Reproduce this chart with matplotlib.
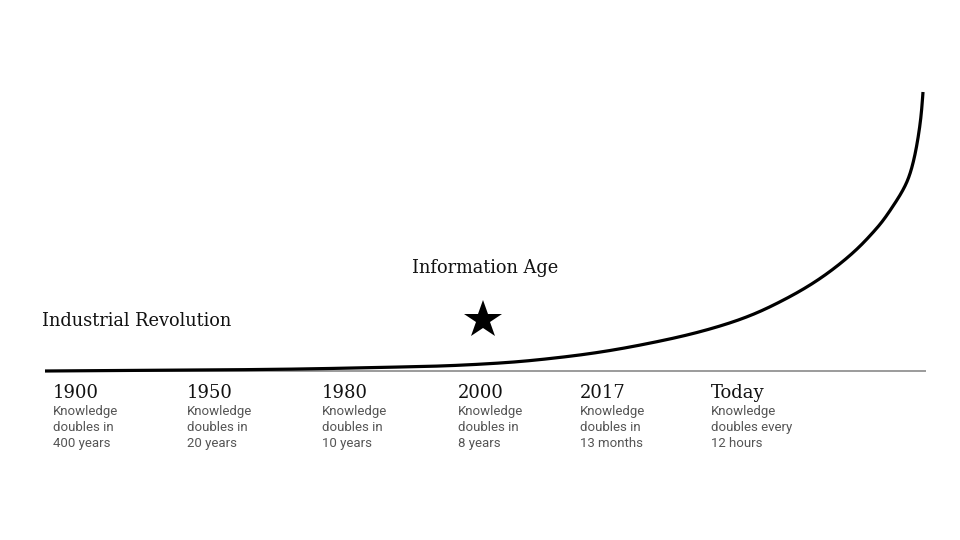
import numpy as np
import matplotlib
matplotlib.use("Agg")
import matplotlib.pyplot as plt

# Curve data: timeline position (along the axis) and knowledge level
curve_x = [0, 155, 255, 355, 395, 435, 475, 508, 542, 575, 608, 642, 675, 695,
           715, 735, 755, 775, 795, 815, 828, 835, 848, 862, 868, 873, 876, 878]
curve_y = [0, 1, 2, 4, 5, 6.8, 9.5, 12.8, 17, 22.2, 28.5, 36, 45, 51.6,
           59.6, 69.2, 80, 92.5, 107.3, 124.9, 138.6, 146.7, 164.9, 189.4,
           208, 233, 255, 279]

years = ["1900", "1950", "1980", "2000", "2017", "Today"]
descriptions = [["Knowledge", "doubles in", "400 years"],
                ["Knowledge", "doubles in", "20 years"],
                ["Knowledge", "doubles in", "10 years"],
                ["Knowledge", "doubles in", "8 years"],
                ["Knowledge", "doubles in", "13 months"],
                ["Knowledge", "doubles every", "12 hours"]]
label_pos = [8, 142, 277, 413, 535, 666]


def natural_spline(t, y, ts):
    """Natural cubic spline through (t, y), evaluated at ts."""
    t = np.asarray(t, float); y = np.asarray(y, float)
    n = len(t)
    h = np.diff(t)
    A = np.zeros((n, n)); b = np.zeros(n)
    A[0, 0] = A[-1, -1] = 1
    for i in range(1, n - 1):
        A[i, i - 1] = h[i - 1]
        A[i, i] = 2 * (h[i - 1] + h[i])
        A[i, i + 1] = h[i]
        b[i] = 6 * ((y[i + 1] - y[i]) / h[i] - (y[i] - y[i - 1]) / h[i - 1])
    M = np.linalg.solve(A, b)
    idx = np.clip(np.searchsorted(t, ts) - 1, 0, n - 2)
    hi = h[idx]
    a = (t[idx + 1] - ts) / hi
    c = (ts - t[idx]) / hi
    return (a * y[idx] + c * y[idx + 1]
            + ((a**3 - a) * M[idx] + (c**3 - c) * M[idx + 1]) * hi**2 / 6)


cx = np.array(curve_x, float)
cy = np.array(curve_y, float)
chord = np.concatenate([[0], np.cumsum(np.hypot(np.diff(cx), np.diff(cy)))])
ts = np.linspace(0, chord[-1], 4000)
xs = natural_spline(chord, cx, ts)
ys = natural_spline(chord, cy, ts)

fig = plt.figure(figsize=(9.6, 5.4), dpi=100)
W, H = 960, 540
ax = fig.add_axes([45 / W, (H - 371) / H, 881 / W, (371 - 92) / H])
ax.set_xlim(0, 881)
ax.set_ylim(0, 279)
ax.axis("off")

ax.plot([0, 881], [0, 0], color="#8a8a8a", lw=1.2, solid_capstyle="butt",
        zorder=1, clip_on=False)
ax.plot(xs, ys, color="black", lw=2.3, solid_capstyle="butt", zorder=2,
        clip_on=False)

serif = ["DejaVu Serif"]
sans = ["Roboto", "DejaVu Sans"]

for yr, desc, xp in zip(years, descriptions, label_pos):
    ax.text(xp, -27, yr, fontsize=13, family=serif, color="#111111",
            ha="left", va="baseline", clip_on=False)
    for j, line in enumerate(desc):
        ax.text(xp, -44 - 16 * j, line, fontsize=9.5, family=sans,
                color="#555555", ha="left", va="baseline", clip_on=False)

fig.text(42 / W, 1 - 321 / H, "Industrial Revolution", fontsize=12.8,
         family=serif, color="#111111", ha="left", va="center")
fig.text(412 / W, 1 - 268 / H, "Information Age", fontsize=12.8,
         family=serif, color="#111111", ha="left", va="center")
ax.plot([438], [51], marker="*", markersize=29, color="black", clip_on=False,
        markeredgewidth=0)

fig.savefig("out.png", dpi=100, facecolor="white")
